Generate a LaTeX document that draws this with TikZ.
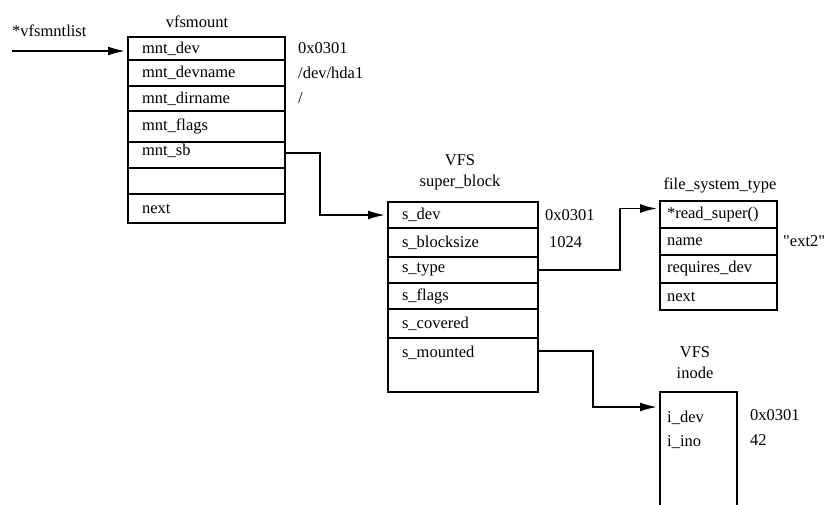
\documentclass[tikz,border=0pt]{standalone}
\usepackage{fontspec}
\setmainfont{Liberation Serif}
\usetikzlibrary{positioning,arrows.meta}

\begin{document}
\begin{tikzpicture}[
    x=1pt, y=-1pt,
    every node/.style={font=\fontsize{16.5}{21}\selectfont},
    field/.style={draw, line width=1.7pt, anchor=north west, outer sep=0pt, inner ysep=0pt, align=left},
    mntrow/.style={field, inner xsep=14pt, text width=129pt},
    sbrow/.style={field, inner xsep=14pt, text width=122pt},
    fsrow/.style={field, inner xsep=7pt, text width=103pt},
    val/.style={inner sep=0pt, anchor=west},
    title/.style={align=center, inner sep=0pt},
    link/.style={line width=1.7pt, -{Latex[length=17pt,width=9pt]}, shorten >=3pt}
]
    \useasboundingbox (0,0) rectangle (826,505);

    % vfsmount
    \node[title] (mnttitle) at (197,22) {vfsmount};
    \node[mntrow, minimum height=23pt] (mntdev) at (128,37) {mnt\_dev};
    \node[mntrow, minimum height=26pt] (mntdevname) at (128,60) {mnt\_devname};
    \node[mntrow, minimum height=25pt] (mntdirname) at (128,86) {mnt\_dirname};
    \node[mntrow, minimum height=31pt] (mntflags) at (128,111) {mnt\_flags};
    \node[mntrow, minimum height=26pt, text height=14pt, text depth=12pt] (mntsb) at (128,142) {mnt\_sb};
    \node[mntrow, minimum height=26pt] (mntempty) at (128,168) {};
    \node[mntrow, minimum height=29pt] (mntnext) at (128,194) {next};

    \node[val, right=13pt of mntdev] (mntdevval) {0x0301};
    \node[val, right=13pt of mntdevname] (mntnameval) {/dev/hda1};
    \node[val, right=13pt of mntdirname] (mntdirval) {/};

    % list head
    \node[val] (listname) at (12,31) {*vfsmntlist};
    \coordinate (listhead) at (12,51);
    \draw[link] (listhead) -- (listhead -| mntdev.west);

    % VFS super_block
    \node[title] (sbtitle) at (460,172) {VFS\\super\_block};
    \node[sbrow, minimum height=26pt] (sdev) at (388,202) {s\_dev};
    \node[sbrow, minimum height=29pt] (sblocksize) at (388,228) {s\_blocksize};
    \node[sbrow, minimum height=26pt] (stype) at (388,257) {s\_type};
    \node[sbrow, minimum height=26pt] (sflags) at (388,283) {s\_flags};
    \node[sbrow, minimum height=29pt] (scovered) at (388,309) {s\_covered};
    \node[sbrow, minimum height=54pt, text height=19pt, text depth=35pt] (smounted) at (388,338) {s\_mounted};

    \node[val, right=7pt of sdev] (sdevval) {0x0301};
    \node[val, right=11pt of sblocksize] (sblockval) {1024};

    % file_system_type
    \node[title] (fstitle) at (720,185) {file\_system\_type};
    \node[fsrow, minimum height=27pt] (fread) at (660,201) {*read\_super()};
    \node[fsrow, minimum height=27pt] (fname) at (660,228) {name};
    \node[fsrow, minimum height=28pt] (freq) at (660,255) {requires\_dev};
    \node[fsrow, minimum height=27pt] (fnext) at (660,283) {next};

    \node[val, right=6pt of fname] (fnameval) {\textquotedbl ext2\textquotedbl};

    % VFS inode
    \node[title] (inotitle) at (695,363) {VFS\\inode};
    \node[anchor=north west, outer sep=0pt, inner sep=0pt, minimum width=77pt, minimum height=113pt] (ino) at (660,392) {};
    \draw[line width=1.7pt] (ino.south west) |- (ino.north east) -- (ino.south east);
    \node[val] (idev) at (667,418) {i\_dev};
    \node[val] (iino) at (667,442) {i\_ino};
    \node[val] (idevval) at (750,415) {0x0301};
    \node[val] (iinoval) at (750,440) {42};

    % pointers
    \draw[link] ([yshift=2pt]mntsb.east) -- ++(35,0) |- (sdev.west);
    \draw[link] (stype.east) -- ++(82,0) |- ([yshift=6pt]fread.west);
    \draw[link] ([yshift=14pt]smounted.east) -- ++(55,0) |- ([yshift=-15pt]ino.north west);
\end{tikzpicture}
\end{document}
